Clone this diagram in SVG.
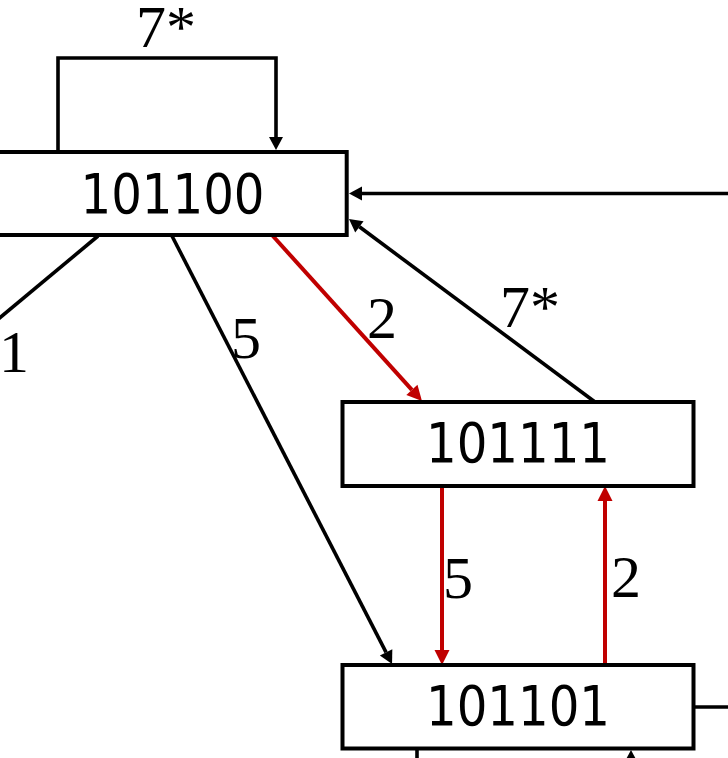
<svg xmlns="http://www.w3.org/2000/svg" width="728" height="758" viewBox="0 0 728 758">
<style>
.box{fill:#fff;stroke:#000;stroke-width:4}
.node{font-family:"DejaVu Sans Condensed","DejaVu Sans",sans-serif;font-size:55px;fill:#000;text-anchor:middle}
.lbl{font-family:"Liberation Serif","Times New Roman",serif;font-size:60px;fill:#000}
.c{fill:none;stroke:#000;stroke-width:3.6}
.r{fill:none;stroke:#C00000;stroke-width:4}
</style>
<defs>
<marker id="ab" markerUnits="userSpaceOnUse" markerWidth="13" markerHeight="14" refX="0" refY="7" orient="auto" overflow="visible"><path d="M0,0 L13,7 L0,14 z" fill="#000"/></marker>
<marker id="ar" markerUnits="userSpaceOnUse" markerWidth="15" markerHeight="15" refX="0" refY="7.5" orient="auto" overflow="visible"><path d="M0,0 L15,7.5 L0,15 z" fill="#C00000"/></marker>
</defs>
<g id="connectors">
<path class="c" d="M58,152 V58 H276 V137" marker-end="url(#ab)"/>
<path class="c" d="M730,193.5 H362" marker-end="url(#ab)"/>
<path class="c" d="M595,402 L359.4,226.8" marker-end="url(#ab)"/>
<path class="c" d="M172,236 L386.1,652.4" marker-end="url(#ab)"/>
<path class="c" d="M98,236 L-10,326"/>
<path class="c" d="M417,748 V760"/>
<path class="c" d="M631,775 V763" marker-end="url(#ab)"/>
<path class="c" d="M693,707 H730"/>
<path class="r" d="M272,235 L411.9,389.9" marker-end="url(#ar)"/>
<path class="r" d="M442,486 V650" marker-end="url(#ar)"/>
<path class="r" d="M605,665 V501" marker-end="url(#ar)"/>
<text class="lbl" x="136" y="47">7*</text>
<text class="lbl" x="500" y="327">7*</text>
<text class="lbl" x="367" y="338">2</text>
<text class="lbl" x="231" y="358">5</text>
<text class="lbl" x="-1" y="372">1</text>
<text class="lbl" x="443" y="598">5</text>
<text class="lbl" x="611" y="597">2</text>
</g>
<g id="n101100">
<rect class="box" x="-10" y="152" width="356.7" height="83"/>
<text class="node" x="172.5" y="213" textLength="184" lengthAdjust="spacingAndGlyphs">101100</text>
</g>
<g id="n101111">
<rect class="box" x="342.5" y="402" width="351" height="84"/>
<text class="node" x="518" y="462" textLength="184" lengthAdjust="spacingAndGlyphs">101111</text>
</g>
<g id="n101101">
<rect class="box" x="342.5" y="665" width="351" height="83.5"/>
<text class="node" x="518" y="725" textLength="184" lengthAdjust="spacingAndGlyphs">101101</text>
</g>
</svg>
